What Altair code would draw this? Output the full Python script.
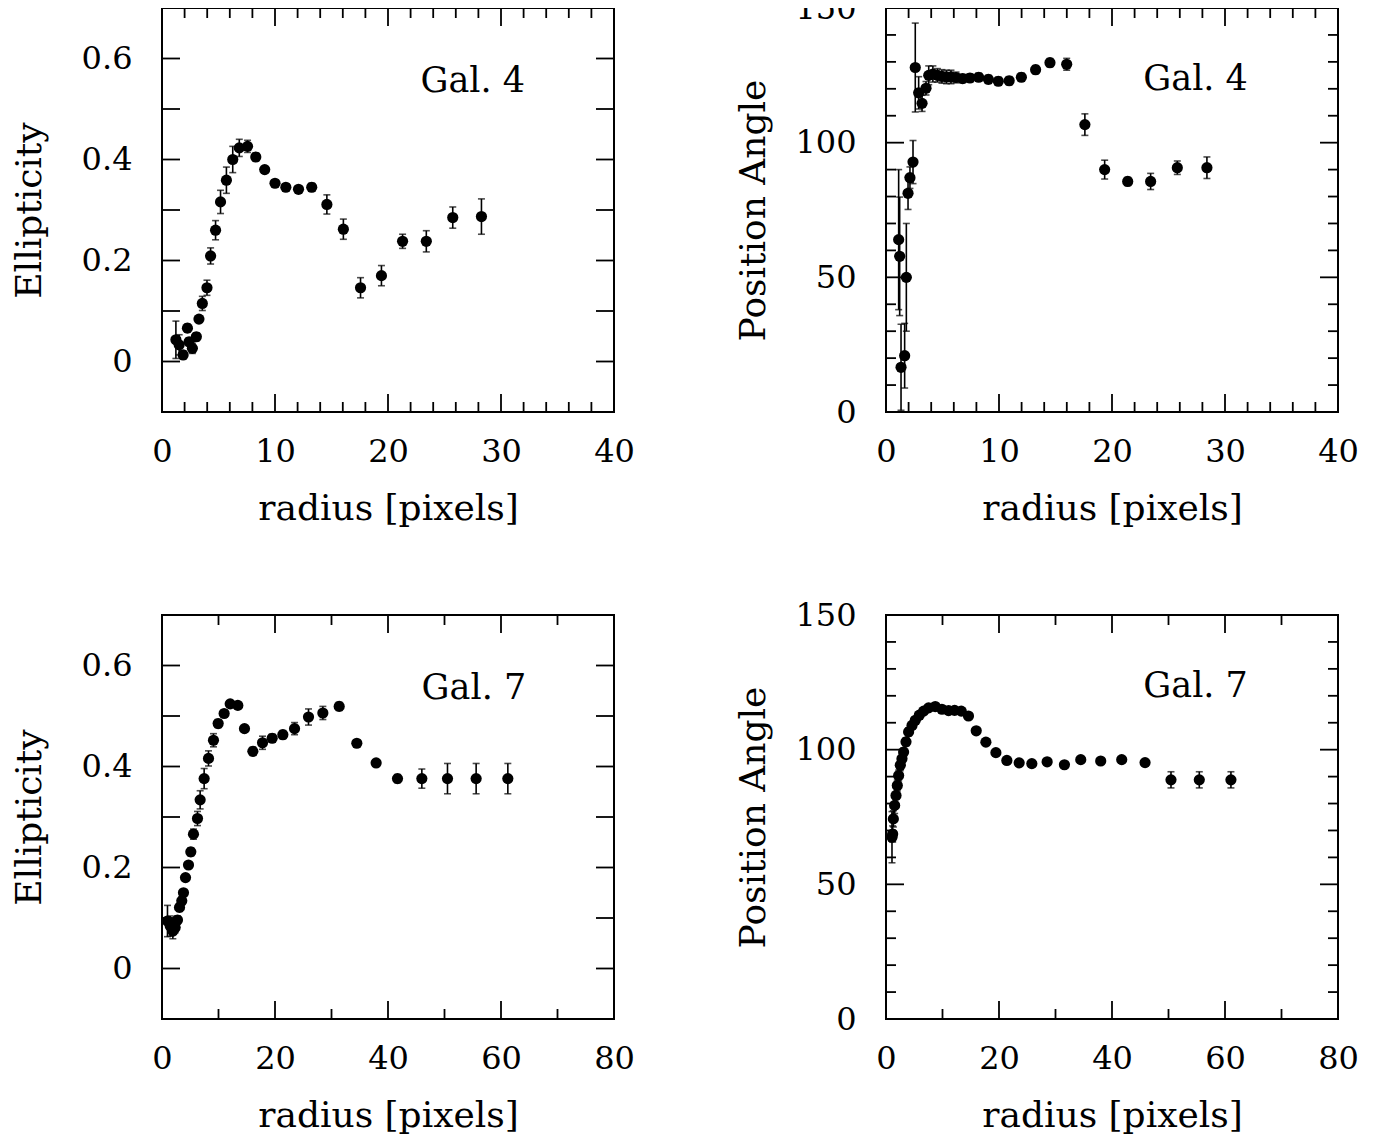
import altair as alt
import pandas as pd

FONT = "DejaVu Serif"
W, H = 452, 404
MAJ, MIN = 18, 10

# ---------------- data ----------------
# Gal. 4 ellipticity
g4e_r = [1.23, 1.52, 1.87, 2.25, 2.40, 2.69, 3.04, 3.27, 3.57, 3.98, 4.30, 4.74, 5.18, 5.70, 6.26,
         6.84, 7.57, 8.30, 9.09, 10.0, 10.96, 12.08, 13.25, 14.59, 16.05, 17.57, 19.42, 21.29,
         23.39, 25.73, 28.27]
g4e_v = [0.043, 0.033, 0.013, 0.066, 0.039, 0.026, 0.049, 0.084, 0.115, 0.146, 0.209, 0.260, 0.316,
         0.359, 0.400, 0.423, 0.426, 0.405, 0.380, 0.353, 0.345, 0.341, 0.345, 0.311, 0.262, 0.146,
         0.170, 0.238, 0.238, 0.285, 0.287]
g4e_err = [0.037, 0.020, 0.008, 0.008, 0.008, 0.010, 0.008, 0.006, 0.014, 0.015, 0.016, 0.019, 0.023,
           0.026, 0.026, 0.017, 0.012, 0.008, 0.006, 0.006, 0.006, 0.006, 0.008, 0.019, 0.020, 0.020,
           0.020, 0.014, 0.021, 0.021, 0.035]

# Gal. 4 position angle
g4p_r = [1.12, 1.21, 1.33, 1.65, 1.80, 1.95, 2.12, 2.39, 2.59, 2.89, 3.19, 3.54, 3.78, 4.15, 4.55,
         4.95, 5.35, 5.75, 6.20, 6.78, 7.43, 8.20, 9.06, 9.94, 10.9, 11.98, 13.24, 14.51, 15.99,
         17.6, 19.35, 21.39, 23.42, 25.78, 28.4]
g4p_v = [64.0, 57.8, 16.6, 20.9, 50.0, 81.2, 87.0, 92.8, 127.9, 118.5, 114.6, 120.2, 125.0, 125.5,
         125.0, 124.6, 124.4, 124.4, 124.2, 123.8, 124.0, 124.3, 123.5, 122.8, 123.0, 124.3, 127.1,
         129.7, 129.1, 106.7, 90.0, 85.6, 85.6, 90.7, 90.7]
g4p_err = [26, 22, 16, 12, 20, 6, 4, 8, 16.5, 6, 3, 2.5, 3.5, 3, 2.5, 2.5, 2.5, 2.5, 2, 1.5, 1.5,
           1.5, 1.5, 1.5, 1.5, 1.5, 1.5, 1.5, 2.2, 4, 3.5, 1.5, 3, 2.5, 4]

# Gal. 7 ellipticity
g7e_r = [0.97, 1.45, 1.92, 2.33, 2.74, 3.10, 3.50, 3.80, 4.16, 4.69, 5.10, 5.57, 6.28, 6.75, 7.46,
         8.23, 9.11, 9.94, 11.0, 12.07, 13.42, 14.6, 16.08, 17.79, 19.5, 21.39, 23.46, 25.93, 28.47,
         31.36, 34.48, 37.9, 41.68, 45.99, 50.53, 55.6, 61.21]
g7e_v = [0.094, 0.084, 0.074, 0.081, 0.096, 0.121, 0.134, 0.150, 0.180, 0.205, 0.231, 0.266, 0.297,
         0.334, 0.376, 0.416, 0.452, 0.485, 0.505, 0.524, 0.521, 0.475, 0.430, 0.447, 0.456, 0.463,
         0.475, 0.498, 0.506, 0.519, 0.446, 0.407, 0.376, 0.376, 0.376, 0.376, 0.376]
g7e_err = [0.031, 0.020, 0.015, 0.010, 0.008, 0.008, 0.008, 0.006, 0.006, 0.006, 0.008, 0.010, 0.014,
           0.018, 0.020, 0.015, 0.013, 0.008, 0.006, 0.006, 0.006, 0.006, 0.008, 0.013, 0.008, 0.008,
           0.012, 0.016, 0.013, 0.008, 0.006, 0.006, 0.008, 0.019, 0.030, 0.030, 0.030]

# Gal. 7 position angle
g7p_r = [1.06, 1.18, 1.30, 1.53, 1.77, 2.00, 2.24, 2.53, 2.83, 3.12, 3.54, 4.00, 4.60, 5.19, 5.89,
         6.66, 7.54, 8.72, 9.90, 11.08, 12.14, 13.32, 14.6, 15.97, 17.68, 19.45, 21.39, 23.57, 25.81,
         28.52, 31.58, 34.47, 38.0, 41.72, 45.85, 50.44, 55.45, 61.05]
g7p_v = [67.5, 68.7, 74.3, 79.3, 83.0, 86.7, 90.4, 94.2, 96.6, 99.1, 102.9, 106.6, 109.0, 110.9,
         112.8, 114.3, 115.5, 116.0, 115.0, 114.5, 114.6, 114.3, 112.5, 107.0, 102.8, 98.9, 96.0,
         95.1, 94.8, 95.5, 94.4, 96.3, 95.8, 96.3, 95.2, 88.8, 88.8, 88.8]
g7p_err = [9.5, 3, 3, 3, 3, 2, 2, 2, 2, 1.5, 1.5, 1.5, 1, 1, 1, 1, 1, 1, 1, 1, 1, 1, 1, 1, 1, 1, 1,
           1, 1, 1, 1, 1, 1, 1, 1, 3, 3, 3]

# axis tick labels
x_labels_40 = [0, 10, 20, 30, 40]
x_labels_80 = [0, 20, 40, 60, 80]
y_labels_ell = [0, 0.2, 0.4, 0.6]
y_labels_pa = [0, 50, 100, 150]

# tick marks (major / minor)
x_major_40 = [0, 10, 20, 30, 40]
x_minor_40 = [v for v in range(2, 40, 2) if v % 10 != 0]
x_major_80 = [0, 20, 40, 60, 80]
x_minor_80 = [10, 30, 50, 70]
y_major_ell = [0.0, 0.1, 0.2, 0.3, 0.4, 0.5, 0.6]
y_minor_ell = []
y_major_pa = [0, 50, 100, 150]
y_minor_pa = [v for v in range(10, 150, 10) if v % 50 != 0]

XTITLE = "radius [pixels]"


def panel(r, v, err, xdom, ydom, xlabels, ylabels, xmaj, xmin, ymaj, ymin, ytitle, label, lx, ly,
          ylabel_expr):
    df = pd.DataFrame({
        "r": r, "v": v,
        "lo": [a - b for a, b in zip(v, err)],
        "hi": [a + b for a, b in zip(v, err)],
    })
    xs = alt.Scale(domain=xdom, nice=False, zero=False)
    ys = alt.Scale(domain=ydom, nice=False, zero=False)
    xax = alt.Axis(values=xlabels, title=XTITLE, titleY=96, titleX=W / 2)
    yax = alt.Axis(values=ylabels, title=ytitle, labelExpr=ylabel_expr, titleX=-133, titleY=H / 2)

    def X(f):
        return alt.X(f, scale=xs, axis=xax, title=XTITLE)

    def Y(f):
        return alt.Y(f, scale=ys, axis=yax, title=ytitle)

    base = alt.Chart(df)
    pts = base.mark_circle(size=125, color="black", opacity=1).encode(x=X("r:Q"), y=Y("v:Q"))
    bars = base.mark_rule(color="black", strokeWidth=1.6, clip=True).encode(
        x=X("r:Q"), y=Y("lo:Q"), y2="hi:Q")
    cap_lo = base.mark_tick(orient="horizontal", size=7, thickness=1.6, color="black", clip=True).encode(
        x=X("r:Q"), y=Y("lo:Q"))
    cap_hi = base.mark_tick(orient="horizontal", size=7, thickness=1.6, color="black", clip=True).encode(
        x=X("r:Q"), y=Y("hi:Q"))
    lab = alt.Chart(pd.DataFrame({"x": [lx], "y": [ly], "t": [label]})).mark_text(
        font=FONT, fontSize=35, align="center", baseline="middle", color="black").encode(
        x=X("x:Q"), y=Y("y:Q"), text="t:N")
    layers = [pts, bars, cap_lo, cap_hi, lab]

    def xticks(vals, side, length):
        m = alt.Chart(pd.DataFrame({"t": vals})).mark_rule(color="black", strokeWidth=1.8)
        if side == "bottom":
            return m.encode(x=X("t:Q"), y=alt.value(H), y2=alt.value(H - length))
        return m.encode(x=X("t:Q"), y=alt.value(0), y2=alt.value(length))

    def yticks(vals, side, length):
        m = alt.Chart(pd.DataFrame({"t": vals})).mark_rule(color="black", strokeWidth=1.8)
        if side == "left":
            return m.encode(y=Y("t:Q"), x=alt.value(0), x2=alt.value(length))
        return m.encode(y=Y("t:Q"), x=alt.value(W), x2=alt.value(W - length))

    for side in ("bottom", "top"):
        if xmaj:
            layers.append(xticks(xmaj, side, MAJ))
        if xmin:
            layers.append(xticks(xmin, side, MIN))
    for side in ("left", "right"):
        if ymaj:
            layers.append(yticks(ymaj, side, MAJ))
        if ymin:
            layers.append(yticks(ymin, side, MIN))
    return alt.layer(*layers).properties(width=W, height=H)


ell_expr = "datum.value == 0 ? '0' : format(datum.value, '.1f')"
pa_expr = "format(datum.value, 'd')"

p1 = panel(g4e_r, g4e_v, g4e_err, [0, 40], [-0.1, 0.7], x_labels_40, y_labels_ell,
           x_major_40, x_minor_40, y_major_ell, y_minor_ell, "Ellipticity", "Gal. 4", 27.5, 0.555, ell_expr)
p2 = panel(g4p_r, g4p_v, g4p_err, [0, 40], [0, 150], x_labels_40, y_labels_pa,
           x_major_40, x_minor_40, y_major_pa, y_minor_pa, "Position Angle", "Gal. 4", 27.4, 123.8, pa_expr)
p3 = panel(g7e_r, g7e_v, g7e_err, [0, 80], [-0.1, 0.7], x_labels_80, y_labels_ell,
           x_major_80, x_minor_80, y_major_ell, y_minor_ell, "Ellipticity", "Gal. 7", 55.2, 0.555, ell_expr)
p4 = panel(g7p_r, g7p_v, g7p_err, [0, 80], [0, 150], x_labels_80, y_labels_pa,
           x_major_80, x_minor_80, y_major_pa, y_minor_pa, "Position Angle", "Gal. 7", 54.8, 123.8, pa_expr)

chart = alt.concat(p1, p2, p3, p4, columns=2, spacing={"row": 71, "column": 97}).properties(
    padding={"top": -17, "left": 2, "right": 5, "bottom": 5}
).configure_view(
    stroke="black", strokeWidth=2
).configure_axis(
    labelFont=FONT, labelFontSize=32, labelColor="black",
    titleFont=FONT, titleFontSize=36, titleFontWeight="normal", titleColor="black",
    titleBaseline="middle", titleAlign="center",
    ticks=False, tickSize=0, domain=False, grid=False,
    labelOverlap=False, labelFlush=False,
).configure_axisX(
    labelPadding=24,
).configure_axisY(
    labelPadding=30,
)

chart.save("out.html", embed_options={"renderer": "svg", "actions": False})
